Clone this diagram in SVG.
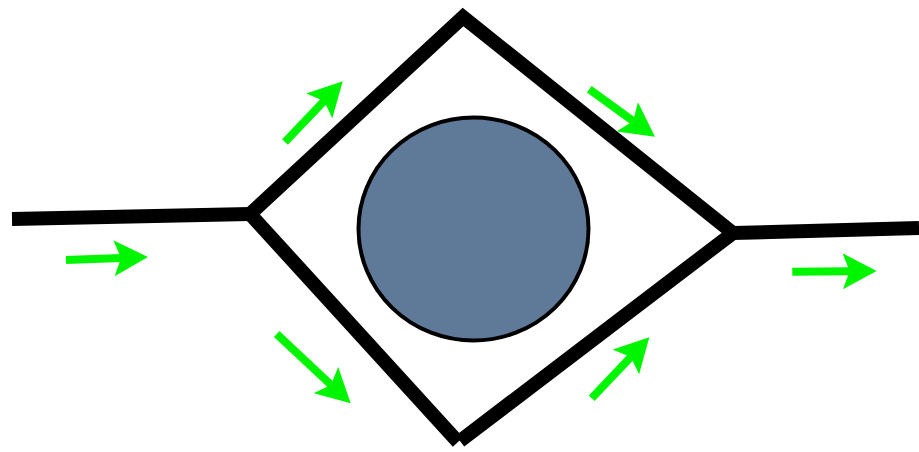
<svg xmlns="http://www.w3.org/2000/svg" width="919" height="452" viewBox="0 0 919 452">
  <style>
    .pipe { fill: none; stroke: #000; stroke-width: 14; stroke-linejoin: miter; stroke-linecap: butt; stroke-miterlimit: 10; }
    .flow { fill: none; stroke: #00f500; stroke-width: 8; stroke-linecap: butt; marker-end: url(#head); }
  </style>
  <defs>
    <marker id="head" markerUnits="userSpaceOnUse" viewBox="0 0 34 36" markerWidth="34" markerHeight="36" refX="7" refY="18" orient="auto">
      <path d="M0,0 L34,18 L0,36 L7,18 Z" fill="#00f500"/>
    </marker>
  </defs>
  <rect width="919" height="452" fill="#fff"/>
  <g id="pipes">
    <path class="pipe" d="M12,219 L250,214"/>
    <path class="pipe" d="M733,233 L919,228"/>
    <path class="pipe" d="M458,442 L250,214 L463,17 L733,233 L460,441"/>
  </g>
  <g id="obstacle">
    <ellipse cx="473.5" cy="229" rx="115" ry="111.5" fill="#5f7a98" stroke="#000" stroke-width="4"/>
  </g>
  <g id="flow-arrows">
    <line class="flow" x1="66" y1="260" x2="121" y2="258"/>
    <line class="flow" x1="285" y1="142" x2="324.1" y2="100.9"/>
    <line class="flow" x1="589.3" y1="89.3" x2="633.1" y2="120.9"/>
    <line class="flow" x1="792.3" y1="271.7" x2="849.7" y2="271.2"/>
    <line class="flow" x1="276.7" y1="334" x2="331" y2="384.9"/>
    <line class="flow" x1="591.7" y1="398.3" x2="630.8" y2="356.9"/>
  </g>
</svg>
